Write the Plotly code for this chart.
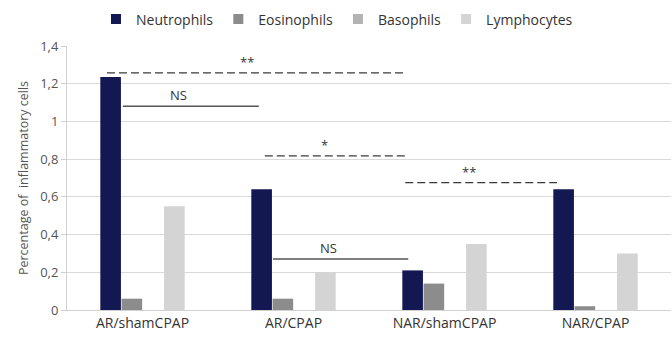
import plotly.graph_objects as go

categories = ["AR/shamCPAP", "AR/CPAP", "NAR/shamCPAP", "NAR/CPAP"]
neutrophils = [1.235, 0.64, 0.21, 0.64]
eosinophils = [0.06, 0.06, 0.14, 0.02]
basophils = [0, 0, 0, 0]
lymphocytes = [0.55, 0.20, 0.35, 0.30]

series_names = ["Neutrophils", "Eosinophils", "Basophils", "Lymphocytes"]
series_values = [neutrophils, eosinophils, basophils, lymphocytes]
series_colors = ["#141852", "#8c8c8c", "#b3b3b3", "#d4d4d4"]

# significance brackets: (x0, x1, y, label, dashed)
brackets = [
    (-0.235, 1.725, 1.257, "**", True),
    (-0.13, 0.77, 1.08, "NS", False),
    (0.81, 1.76, 0.817, "*", True),
    (1.74, 2.745, 0.675, "**", True),
    (0.864, 1.76, 0.27, "NS", False),
]

fig = go.Figure()
for name, vals, col in zip(series_names, series_values, series_colors):
    fig.add_trace(go.Bar(name=name, x=categories, y=vals, marker_color=col,
                         marker_line_width=0, showlegend=False))
# legend entries with small square markers
for name, col in zip(series_names, series_colors):
    fig.add_trace(go.Scatter(name=name, x=[None], y=[None], mode="markers",
                             marker=dict(symbol="square", size=10, color=col)))

for x0, x1, y, label, dashed in brackets:
    fig.add_shape(type="line", xref="x", yref="y", x0=x0, x1=x1, y0=y, y1=y,
                  line=dict(color="#3a3a3a" if dashed else "#555555",
                            width=1.3 if dashed else 1.5,
                            dash="8px,4px" if dashed else "solid"))
    fig.add_annotation(x=(x0 + x1) / 2 - (0.08 if label != "**" or x0 > 1 else 0.05),
                       y=y, text=label, showarrow=False, yanchor="bottom", yshift=0,
                       font=dict(size=13, color="#333333", family="Open Sans"))

fig.update_layout(
    width=672, height=352,
    margin=dict(l=67, r=1, t=46, b=42),
    paper_bgcolor="white", plot_bgcolor="white",
    separators=",.",
    barmode="group", bargap=0.437, bargroupgap=0.03,
    font=dict(family="Open Sans", size=13, color="#404040"),
    legend=dict(orientation="h", x=0.447, xanchor="center", y=0.99, yanchor="top",
                yref="container", font=dict(size=14, color="#333333"),
                itemwidth=30, traceorder="normal"),
    xaxis=dict(showline=True, linecolor="#d0d0d0", linewidth=1,
               tickfont=dict(size=14, color="#333333"), ticks=""),
    yaxis=dict(range=[0, 1.4], dtick=0.2, showgrid=True, gridcolor="#d9d9d9",
               showline=True, linecolor="#d0d0d0", ticks="outside", ticklen=5,
               tickcolor="#d0d0d0", zeroline=False,
               tickfont=dict(size=13, color="#555555"),
               title=dict(text="Percentage of  inflammatory cells",
                          font=dict(size=12.5, color="#555555"), standoff=8)),
)

fig.write_html("out.html")
